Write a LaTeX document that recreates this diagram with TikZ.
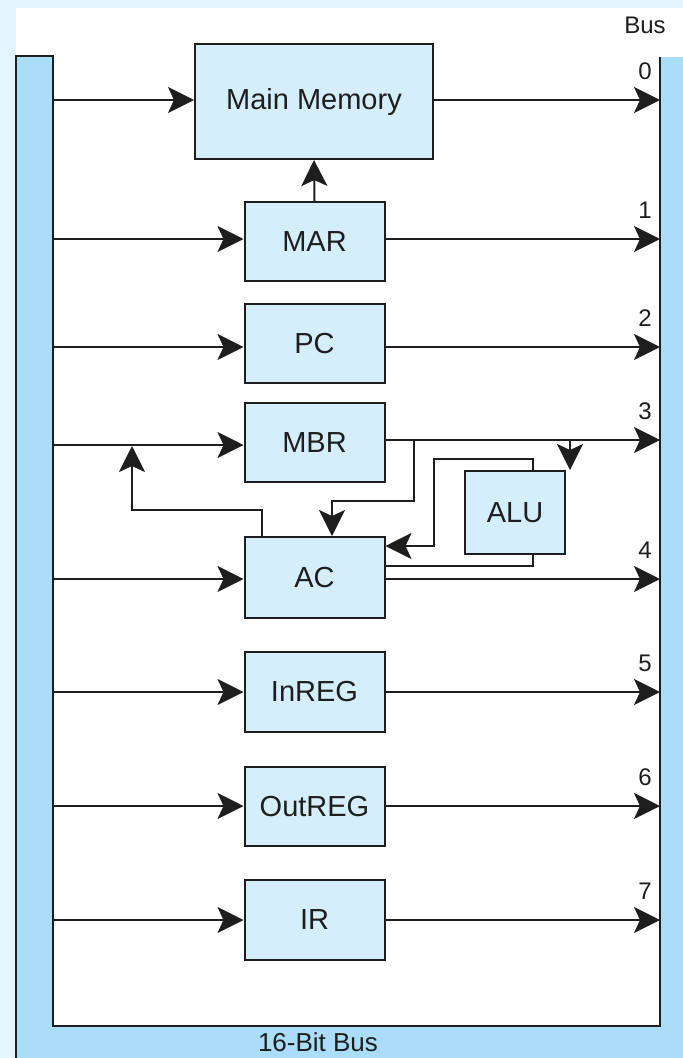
\documentclass[tikz,border=0pt]{standalone}
\usepackage{fontspec}
\setmainfont{Liberation Sans}
\usetikzlibrary{arrows.meta,calc}
\definecolor{bgblue}{HTML}{E3F4FD}
\definecolor{busblue}{HTML}{A9DDF8}
\definecolor{boxblue}{HTML}{D4EEFC}
\definecolor{ink}{HTML}{1E1E1E}
\tikzset{
  reg/.style={draw=ink, line width=2pt, fill=boxblue, minimum width=140pt, minimum height=80pt, inner sep=0pt, font=\fontsize{29}{33}\selectfont, text=ink},
  wire/.style={draw=ink, line width=2pt},
  arr/.style={wire, -{Stealth[length=26pt,width=26pt,inset=6pt]}},
  buslbl/.style={font=\fontsize{24}{28}\selectfont, text=ink, inner sep=0pt},
}
\begin{document}
\begin{tikzpicture}[x=1pt,y=-1pt]
\useasboundingbox (0,0) rectangle (683,1058);
% backgrounds
\fill[bgblue] (0,0) rectangle (683,1058);
\fill[white] (16,8) rectangle (683,1026);
% bus U shape
\fill[busblue] (16,56) -- (53,56) -- (53,1026) -- (660,1026) -- (660,57) -- (683,57) -- (683,1058) -- (16,1058) -- cycle;
\draw[wire] (16,1058) -- (16,56) -- (53,56) -- (53,1026) -- (660,1026) -- (660,57);
\node[buslbl] (buslabel) at (645,25) {Bus};
\node[buslbl, font=\fontsize{26}{30}\selectfont] (bitbus) at (318,1042) {16-Bit Bus};

% registers
\node[reg, minimum width=238pt, minimum height=115pt] (mm) at (314,101.5) {Main Memory};
\node[reg, minimum height=79pt] (mar) at (314.5,241.5) {MAR};
\node[reg, minimum height=79pt] (pc) at (314.5,343.5) {PC};
\node[reg, minimum height=79pt] (mbr) at (314.5,442.5) {MBR};
\node[reg, minimum width=100pt, minimum height=83pt] (alu) at (515,512.5) {ALU};
\node[reg, minimum height=81pt] (ac) at (314.5,577.5) {AC};
\node[reg] (inreg) at (314.5,692) {InREG};
\node[reg, minimum height=79pt] (outreg) at (314.5,806.5) {OutREG};
\node[reg] (ir) at (314.5,920) {IR};

% bus coordinates
\foreach \n/\yl/\yr in {0/100/100,1/239/239,2/347/347,3/445/440,4/579/579,5/692/692,6/806/806,7/920/920}{
  \coordinate (L\n) at (53,\yl);
  \coordinate (R\n) at (660,\yr);
  \node[buslbl] (d\n) at (645,\yr-29) {\n};
}
% left bus to registers
\draw[arr] (L0) -- (L0 -| mm.west);
\draw[arr] (L1) -- (L1 -| mar.west);
\draw[arr] (L2) -- (L2 -| pc.west);
\draw[arr] (L3) -- (L3 -| mbr.west);
\draw[arr] (L4) -- (L4 -| ac.west);
\draw[arr] (L5) -- (L5 -| inreg.west);
\draw[arr] (L6) -- (L6 -| outreg.west);
\draw[arr] (L7) -- (L7 -| ir.west);
% registers to right bus
\draw[arr] (R0 -| mm.east) -- (R0);
\draw[arr] (R1 -| mar.east) -- (R1);
\draw[arr] (R2 -| pc.east) -- (R2);
\draw[arr] (R3 -| mbr.east) -- (R3);
\draw[arr] (R4 -| ac.east) -- (R4);
\draw[arr] (R5 -| inreg.east) -- (R5);
\draw[arr] (R6 -| outreg.east) -- (R6);
\draw[arr] (R7 -| ir.east) -- (R7);
% MAR to memory
\draw[arr] (mar.north) -- (mm.south);
% MBR to AC
\draw[arr] (414,440) -- (414,501) -- (332,501) -- (332,0 |- ac.north);
% MBR line to ALU
\draw[arr] (570,440) -- (570,0 |- alu.north);
% ALU output to AC
\draw[arr] (533,0 |- alu.north) -- (533,459) -- (434,459) -- (434,546) -- (ac.east |- 0,546);
% AC to ALU
\draw[wire] (ac.east |- 0,566) -- (533,566) -- (533,0 |- alu.south);
% AC to bus line 3
\draw[arr] (262,0 |- ac.north) -- (262,510) -- (132,510) -- (132,446);
\end{tikzpicture}
\end{document}
